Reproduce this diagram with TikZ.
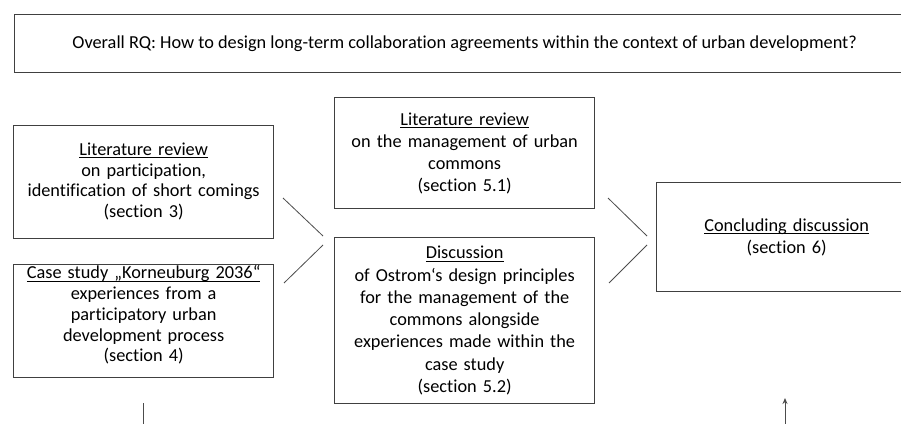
\documentclass[tikz,border=0pt]{standalone}
\usepackage{fontspec}
\setmainfont[Ligatures=NoCommon]{Carlito}
\usetikzlibrary{arrows.meta}
\newcommand\ulin[1]{\sbox0{#1}\rlap{\rule[-0.17em]{\wd0}{0.065em}}\usebox0}
\tikzset{
  box/.style={draw=black!75, line width=1.3pt, rectangle, inner sep=0pt, align=center,
    font=\fontsize{18.3}{20.8}\selectfont},
  conn/.style={draw=black!70, line width=0.8pt},
}
\begin{document}
\begin{tikzpicture}[x=1pt,y=-1pt]
\useasboundingbox[fill=white] (0,0) rectangle (901,423);
\node[box, minimum width=900pt, minimum height=57.5pt, anchor=north west] (rq) at (14,14)
  {Overall RQ: How to design long-term collaboration agreements within the context of urban development?};
\node[box, minimum width=260pt, minimum height=113pt, anchor=north west, text width=258pt] (lit1) at (13,125)
  {\ulin{Literature review}\\on participation,\\identification of short comings\\(section 3)\\[-17pt]\mbox{}};
\node[box, minimum width=260pt, minimum height=113pt, anchor=north west, text width=258pt] (case) at (13,264)
  {\ulin{Case study „Korneuburg 2036“}\\experiences from a\\participatory urban\\development process\\(section 4)\\[-6pt]\mbox{}};
\node[box, minimum width=260pt, minimum height=111pt, anchor=north west, text width=258pt,
  font=\fontsize{18.3}{22}\selectfont] (lit2) at (334,97)
  {\ulin{Literature review}\\on the management of urban\\commons\\(section 5.1)};
\node[box, minimum width=260pt, minimum height=166pt, anchor=north west, text width=258pt,
  font=\fontsize{18.3}{22.3}\selectfont] (disc) at (334,237)
  {\ulin{Discussion}\\of Ostrom‘s design principles\\for the management of the\\commons alongside\\experiences made within the\\case study\\(section 5.2)};
\node[box, minimum width=260pt, minimum height=109pt, anchor=north west, text width=258pt,
  font=\fontsize{18.3}{22}\selectfont] (conc) at (656,182)
  {\ulin{Concluding discussion}\\(section 6)};
\coordinate (a1) at (283,198);
\coordinate (a2) at (323,236);
\coordinate (b1) at (323,245);
\coordinate (b2) at (284,283);
\coordinate (c1) at (608,198);
\coordinate (c2) at (647,236);
\coordinate (d1) at (647,245);
\coordinate (d2) at (609,283);
\draw[conn] (a1) -- (a2);
\draw[conn] (b1) -- (b2);
\draw[conn] (c1) -- (c2);
\draw[conn] (d1) -- (d2);
\coordinate (v1) at (143,403);
\coordinate (v2) at (143,425);
\draw[conn, line width=1pt] (v1) -- (v2);
\coordinate (w1) at (785,425);
\coordinate (w2) at (785,398);
\draw[conn, line width=1pt, -{Stealth[length=6pt,width=5pt]}] (w1) -- (w2);
\end{tikzpicture}
\end{document}
